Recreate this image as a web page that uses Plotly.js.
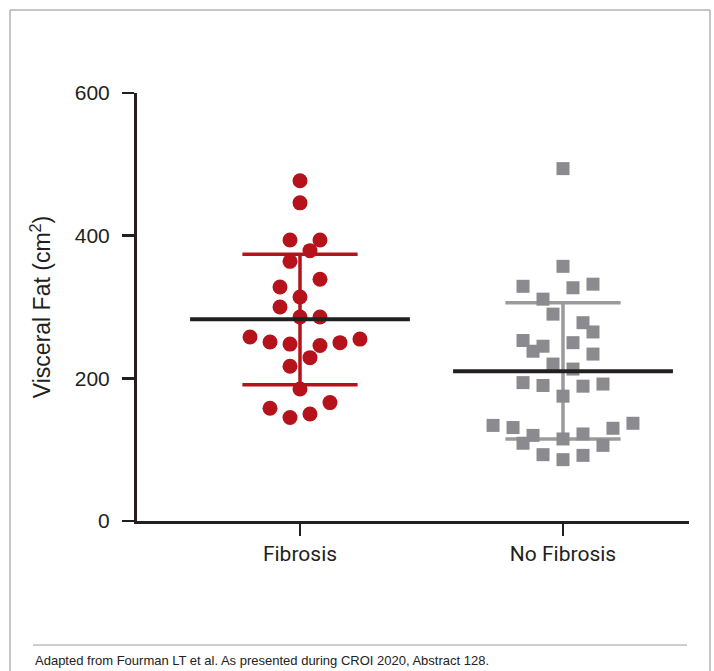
<!DOCTYPE html>
<html>
<head>
<meta charset="utf-8">
<script src="https://cdn.plot.ly/plotly-3.0.1.min.js"></script>
<style>
  html, body { margin: 0; padding: 0; background: #ffffff; }
  #chart { width: 714px; height: 671px; }
</style>
</head>
<body>
<div id="chart"></div>
<script>
// ---- Data ----
const categories = ["Fibrosis", "No Fibrosis"];

const fibrosisValues = [477, 446, 394, 394, 379, 364, 328, 339, 314, 300, 286, 286,
  258, 251, 248, 246, 250, 255, 229, 217, 185, 158, 145, 150, 166];
const fibrosisJitter = [0, 0, -0.038, 0.076, 0.038, -0.038, -0.076, 0.076, 0, -0.076, 0, 0.076,
  -0.19, -0.114, -0.038, 0.076, 0.152, 0.228, 0.038, -0.038, 0, -0.114, -0.038, 0.038, 0.114];

const noFibrosisValues = [494, 357, 329, 327, 332, 311, 290, 278, 265, 253, 245, 238, 250, 234,
  220, 213, 194, 190, 189, 192, 175, 134, 131, 120, 109, 115, 122, 130, 137, 106, 93, 86, 92];
const noFibrosisJitter = [0, 0, -0.152, 0.038, 0.114, -0.076, -0.038, 0.076, 0.114, -0.152, -0.076, -0.114, 0.038, 0.114,
  -0.038, 0.038, -0.152, -0.076, 0.076, 0.152, 0, -0.266, -0.19, -0.114, -0.152, 0, 0.076, 0.19, 0.266, 0.152, -0.076, 0, 0.076];

const groupMeans = [283, 210];
const groupSdUpper = [374, 306];
const groupSdLower = [191, 115];

const yTickVals = [0, 200, 400, 600];
const yTickText = ["0", "200", "400", "600"];

const footnote = "Adapted from Fourman LT et al. As presented during CROI 2020, Abstract 128.";

// ---- Styles ----
const RED = "#b5121b";
const GREY_PT = "#8b8b8f";
const GREY_BAR = "#9b9b9e";
const DARK = "#231f20";
const meanHalf = 0.418;
const capHalf = 0.219;

// ---- Build traces ----
const traces = [];
const groupColorsBar = [RED, GREY_BAR];

// SD bars (drawn first, under the points)
for (let g = 0; g < categories.length; g++) {
  const c = groupColorsBar[g];
  const w = 3.5;
  traces.push({ x: [g, g], y: [groupSdLower[g], groupSdUpper[g]], mode: "lines",
    line: { color: c, width: w }, hoverinfo: "skip", showlegend: false });
  traces.push({ x: [g - capHalf, g + capHalf], y: [groupSdUpper[g], groupSdUpper[g]], mode: "lines",
    line: { color: c, width: w }, hoverinfo: "skip", showlegend: false });
  traces.push({ x: [g - capHalf, g + capHalf], y: [groupSdLower[g], groupSdLower[g]], mode: "lines",
    line: { color: c, width: w }, hoverinfo: "skip", showlegend: false });
}

// Points
traces.push({
  x: fibrosisValues.map((v, i) => 0 + fibrosisJitter[i]),
  y: fibrosisValues,
  mode: "markers", name: categories[0], showlegend: false,
  marker: { symbol: "circle", size: 15, color: RED, line: { width: 0 } }
});
traces.push({
  x: noFibrosisValues.map((v, i) => 1 + noFibrosisJitter[i]),
  y: noFibrosisValues,
  mode: "markers", name: categories[1], showlegend: false,
  marker: { symbol: "square", size: 13, color: GREY_PT, line: { width: 0 } }
});

// Mean lines (on top)
for (let g = 0; g < categories.length; g++) {
  traces.push({ x: [g - meanHalf, g + meanHalf], y: [groupMeans[g], groupMeans[g]], mode: "lines",
    line: { color: DARK, width: 4 }, hoverinfo: "skip", showlegend: false });
}

// ---- Layout helpers (pixel -> paper coordinates for decoration) ----
const PL = 137, PR = 689, PT = 93, PB = 521;
const px = (p) => (p - PL) / (PR - PL);
const py = (p) => (PB - p) / (PB - PT);

const layout = {
  width: 714, height: 671,
  margin: { l: PL, r: 714 - PR, t: PT, b: 671 - PB, pad: 0 },
  paper_bgcolor: "#ffffff", plot_bgcolor: "#ffffff",
  showlegend: false,
  xaxis: {
    range: [-(163 / 263), 1 + 126 / 263],
    tickvals: [0, 1], ticktext: categories,
    showline: true, linecolor: DARK, linewidth: 3,
    ticks: "outside", ticklen: 12, tickwidth: 2.5, tickcolor: DARK,
    showgrid: false, zeroline: false,
    tickfont: { family: "Roboto, 'Liberation Sans', sans-serif", size: 21, color: DARK },
    fixedrange: true
  },
  yaxis: {
    range: [0, 600],
    tickvals: yTickVals, ticktext: yTickText,
    showline: true, linecolor: DARK, linewidth: 3,
    ticks: "outside", ticklen: 12, tickwidth: 2.5, tickcolor: DARK,
    ticklabelstandoff: 8,
    showgrid: false, zeroline: false,
    tickfont: { family: "'Liberation Sans', Arial, sans-serif", size: 21, color: DARK },
    title: { text: "Visceral Fat (cm<sup>2</sup>)", standoff: 18,
      font: { family: "'Liberation Sans', Arial, sans-serif", size: 23, color: DARK } },
    fixedrange: true
  },
  shapes: [
    // outer frame
    { type: "line", xref: "paper", yref: "paper", x0: px(10), x1: px(710), y0: py(10), y1: py(10),
      line: { color: "#b3b3b3", width: 1.5 } },
    { type: "line", xref: "paper", yref: "paper", x0: px(10), x1: px(10), y0: py(10), y1: py(690),
      line: { color: "#b3b3b3", width: 1.5 } },
    { type: "line", xref: "paper", yref: "paper", x0: px(710), x1: px(710), y0: py(10), y1: py(690),
      line: { color: "#b3b3b3", width: 1.5 } },
    // separator above footnote
    { type: "line", xref: "paper", yref: "paper", x0: px(33), x1: px(687), y0: py(645), y1: py(645),
      line: { color: "#bdbdbd", width: 1.5 } }
  ],
  annotations: [
    { text: footnote, xref: "paper", yref: "paper", x: px(33), y: py(660),
      xanchor: "left", yanchor: "middle", showarrow: false,
      font: { family: "'Liberation Sans', Arial, sans-serif", size: 13, color: "#222222" } }
  ]
};

Plotly.newPlot("chart", traces, layout, { displayModeBar: false, staticPlot: true });
</script>
</body>
</html>
